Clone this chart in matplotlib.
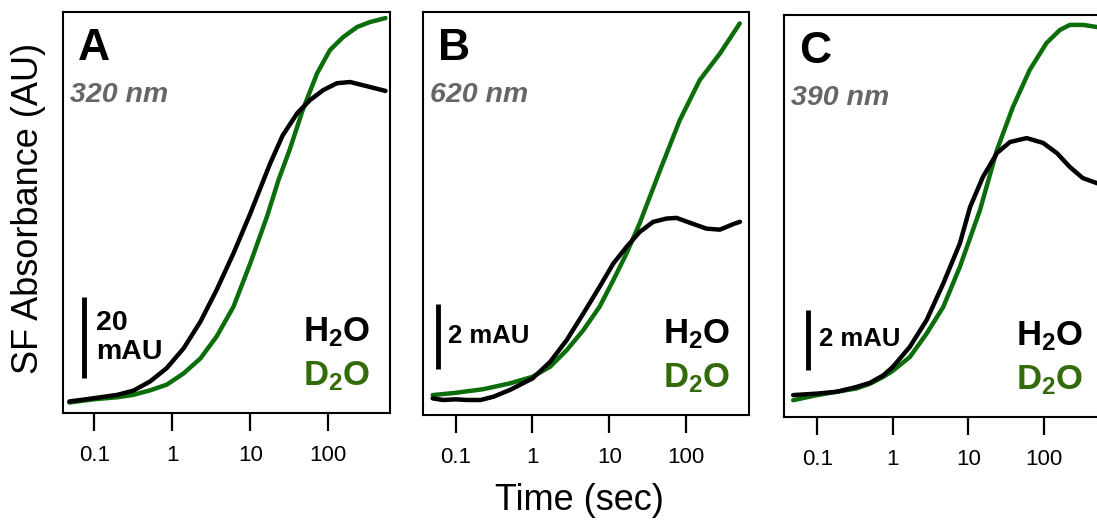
import matplotlib
matplotlib.use("Agg")
import matplotlib.pyplot as plt
import matplotlib.ticker as mticker

plt.rcParams['font.family'] = ['Liberation Sans', 'DejaVu Sans']
plt.rcParams['mathtext.fontset'] = 'custom'
plt.rcParams['mathtext.rm'] = 'Liberation Sans'
plt.rcParams['mathtext.bf'] = 'Liberation Sans:bold'

# ---- data (time in s, absorbance in mAU) ----
# Panel A, 320 nm
tA_h2o = [0.048, 0.1, 0.2, 0.32, 0.52, 0.85, 1.4, 2.3, 3.7, 6.1, 10, 17.9, 26, 40, 58, 86, 129, 190, 278, 540]
yA_h2o = [0.25, 1.07, 1.9, 2.96, 5.2, 8.5, 13.4, 20.0, 27.8, 36.9, 46.7, 59.0, 66.0, 71.5, 74.7, 77.2, 78.9, 79.2, 78.4, 77.0]
tA_d2o = [0.048, 0.1, 0.2, 0.32, 0.52, 0.85, 1.4, 2.3, 3.7, 6.1, 10, 16.4, 23, 32, 47, 72, 105, 155, 234, 340, 540]
yA_d2o = [0.0, 0.8, 1.3, 1.9, 3.0, 4.4, 7.2, 10.9, 16.3, 23.7, 34.4, 46.0, 55.0, 62.5, 72.3, 81.4, 87.1, 90.3, 92.8, 94.0, 95.0]

# Panel B, 620 nm
tB_h2o = [0.05, 0.068, 0.1, 0.14, 0.21, 0.31, 0.51, 1.0, 1.7, 2.8, 4.6, 7.5, 11.3, 16.8, 25, 37.5, 56, 75.5, 113, 186, 277, 414, 506]
yB_h2o = [0.05, 0.0, 0.02, 0.0, 0.0, 0.10, 0.31, 0.66, 1.17, 1.84, 2.65, 3.47, 4.18, 4.69, 5.15, 5.46, 5.56, 5.58, 5.43, 5.25, 5.22, 5.39, 5.46]
tB_d2o = [0.05, 0.1, 0.227, 0.51, 1.0, 1.7, 2.8, 4.6, 7.5, 11.3, 16.8, 25, 46, 83, 151, 278, 503]
yB_d2o = [0.15, 0.22, 0.33, 0.51, 0.71, 1.02, 1.53, 2.14, 2.86, 3.67, 4.49, 5.42, 7.04, 8.57, 9.80, 10.62, 11.54]

# Panel C, 390 nm
tC_h2o = [0.048, 0.1, 0.18, 0.33, 0.50, 0.75, 1.0, 1.68, 2.8, 4.65, 7.7, 10.5, 15.5, 23.8, 35.5, 58.9, 97, 148, 219, 325, 500, 600]
yC_h2o = [0.06, 0.11, 0.17, 0.33, 0.47, 0.72, 1.0, 1.67, 2.56, 3.78, 5.11, 6.32, 7.32, 8.12, 8.49, 8.62, 8.46, 8.12, 7.66, 7.29, 7.12, 7.06]
tC_d2o = [0.048, 0.1, 0.18, 0.33, 0.50, 0.75, 1.0, 1.68, 2.8, 4.65, 7.7, 14.2, 23.8, 38.8, 64.6, 108, 162, 219, 331, 500, 600]
yC_d2o = [-0.11, 0.06, 0.17, 0.28, 0.44, 0.67, 0.87, 1.33, 2.11, 3.0, 4.33, 6.22, 8.22, 9.66, 10.89, 11.79, 12.22, 12.39, 12.39, 12.32, 12.32]

letters = ['A', 'B', 'C']
wavelengths = ['320 nm', '620 nm', '390 nm']
scale_labels = ['20\nmAU', '2 mAU', '2 mAU']
scale_bottoms = [6.0, 0.94, 0.89]
scale_sizes = [20, 2, 2]
tick_vals = [0.1, 1, 10, 100]
tick_labels = ['0.1', '1', '10', '100']

H2O_COLOR = 'black'
D2O_COLOR = '#0b6e0b'
D2O_TEXT = '#336b0a'

W, H = 1097, 523
fig = plt.figure(figsize=(W / 100, H / 100), dpi=100)

# axes boxes in pixels: left, top, right, bottom
boxes = [(63, 12, 390, 413), (423, 12, 749, 415), (784, 15, 1110, 417)]
xlims = [(0.0398, 617), (0.0374, 664), (0.0363, 746)]
ylims = [(-2.6, 96.5), (-0.46, 11.89), (-0.67, 12.72)]
legend_right = [370, 730, 1083]
bar_x = [0.064, 0.046, 0.074]
bar_text_x = [0.101, 0.077, 0.107]

series = [
    (tA_h2o, yA_h2o, tA_d2o, yA_d2o),
    (tB_h2o, yB_h2o, tB_d2o, yB_d2o),
    (tC_h2o, yC_h2o, tC_d2o, yC_d2o),
]

for i, (l, t, r, b) in enumerate(boxes):
    ax = fig.add_axes([l / W, 1 - b / H, (r - l) / W, (b - t) / H])
    th, yh, td, yd = series[i]
    ax.plot(td, yd, color=D2O_COLOR, lw=3.2, solid_capstyle='round', solid_joinstyle='round')
    ax.plot(th, yh, color=H2O_COLOR, lw=3.2, solid_capstyle='round', solid_joinstyle='round')
    ax.set_xscale('log')
    ax.set_xlim(*xlims[i])
    ax.set_ylim(*ylims[i])
    ax.set_yticks([])
    ax.xaxis.set_major_locator(mticker.FixedLocator(tick_vals))
    ax.xaxis.set_minor_locator(mticker.NullLocator())
    ax.set_xticklabels(tick_labels, fontsize=16)
    ax.tick_params(axis='x', direction='out', length=13, width=1.6, pad=10)
    for sp in ax.spines.values():
        sp.set_linewidth(1.5)

    # panel letter and wavelength
    ax.text(0.045, 0.96, letters[i], transform=ax.transAxes, fontsize=32,
            fontweight='bold', ha='left', va='top')
    ax.text(0.022, 0.793, wavelengths[i], transform=ax.transAxes, fontsize=20.5,
            fontweight='bold', style='italic', color='#666666', ha='left', va='center')

    # scale bar
    trans = ax.get_yaxis_transform()
    sb = scale_bottoms[i]
    ax.plot([bar_x[i], bar_x[i]], [sb, sb + scale_sizes[i]], transform=trans,
            color='black', lw=3.5, solid_capstyle='butt')
    if i == 0:
        ax.text(bar_text_x[i], sb + scale_sizes[i] * 0.5, scale_labels[i], transform=trans,
                fontsize=20.5, fontweight='bold', ha='left', va='center', linespacing=1.15)
    else:
        ax.text(bar_text_x[i], sb + scale_sizes[i] * 0.4, scale_labels[i], transform=trans,
                fontsize=18.5, fontweight='bold', ha='left', va='baseline')

    # legend labels
    xr = (legend_right[i] - l) / (r - l)
    ax.text(xr, 0.178, r'$\mathbf{H_2O}$', transform=ax.transAxes, fontsize=25,
            color=H2O_COLOR, ha='right', va='baseline')
    ax.text(xr, 0.068, r'$\mathbf{D_2O}$', transform=ax.transAxes, fontsize=25,
            color=D2O_TEXT, ha='right', va='baseline')

fig.text(29 / W, 1 - 208 / H, 'SF Absorbance (AU)', rotation=90, fontsize=26,
         ha='center', va='center')
fig.text(579 / W, 1 - 500 / H, 'Time (sec)', fontsize=26, ha='center', va='center')

fig.savefig('out.png', dpi=100)
